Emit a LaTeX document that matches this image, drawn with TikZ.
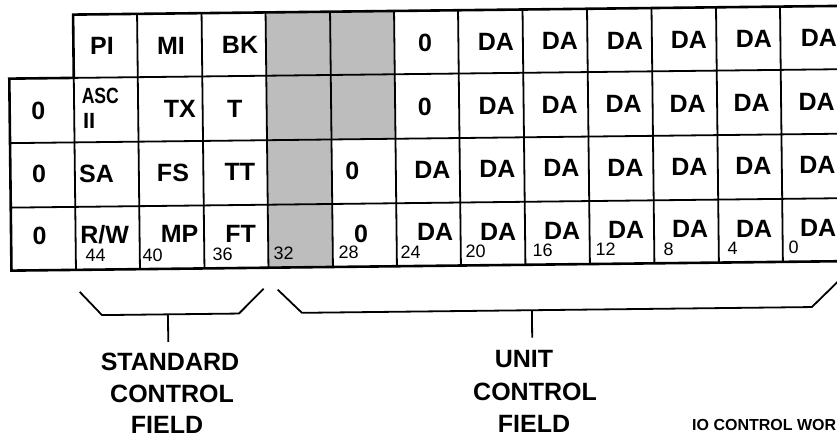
\documentclass[tikz,border=0pt]{standalone}
\usepackage{fontspec}
\setmainfont{Liberation Sans}
\begin{document}
\begin{tikzpicture}[x=1pt,y=1pt,
  lab/.style={font=\fontsize{25}{25}\selectfont\bfseries, inner sep=0pt, anchor=base},
  num/.style={font=\fontsize{18}{18}\selectfont, inner sep=0pt, anchor=base west},
  bl/.style={font=\fontsize{25}{25}\selectfont\bfseries, inner sep=0pt, anchor=base},
  figcaption/.style={font=\fontsize{16}{16}\selectfont\bfseries, inner sep=0pt, anchor=base west},
  outerline/.style={line width=2.6pt, line join=miter},
  innerline/.style={line width=1.8pt},
  brk/.style={line width=1.8pt, line join=round},
  shadecell/.style={fill=black!26}]
\useasboundingbox (0,0) rectangle (837,437);
\clip (0,0) rectangle (837,437);
\begin{scope}[rotate around={0.65:(418,297)}]
  % shaded cells
  \fill[shadecell] (267,426.3) rectangle (395.5,298.5);
  \fill[shadecell] (267,298.5) rectangle (331.5,171);
  % inner grid lines
  \draw[innerline] (74.5,363) -- (846,363);
  \draw[innerline] (10,298.5) -- (846,298.5);
  \draw[innerline] (10,234) -- (846,234);
  \draw[innerline] (74.5,363) -- (74.5,171);
  \foreach \x in {138.5,203,267,331.5,395.5,459.5,524,588.5,653,717.5,781.5}
    \draw[innerline] (\x,426.3) -- (\x,171);
  % outer border
  \draw[outerline] (846,171) -- (10,171) -- (10,363) -- (74.5,363) -- (74.5,426.3) -- (846,426.3);
  % row 1
  \node[lab] (pi) at (103,385.6) {PI};
  \node[lab] (mi) at (172,385.6) {MI};
  \node[lab] (bk) at (241,385.6) {BK};
  \node[lab] (z16) at (426,385.6) {0};
  \foreach \x [count=\i] in {497,561,626,690,755,820}
    \node[lab] (da1-\i) at (\x,385.6) {DA};
  % row 2
  \node[lab] (z20) at (38.5,321.8) {0};
  \node[font=\fontsize{22}{22}\selectfont\bfseries, inner sep=0pt, anchor=base west] (asc) at (82,337.6) {\scalebox{0.8}[1]{ASC}};
  \node[font=\fontsize{22}{22}\selectfont\bfseries, inner sep=0pt, anchor=base west] (ii) at (83,312.6) {II};
  \node[lab] (tx) at (180,321.8) {TX};
  \node[lab] (t) at (235,321.8) {T};
  \node[lab] (z26) at (425,321.8) {0};
  \foreach \x [count=\i] in {497,560,624,688,752,817}
    \node[lab] (da2-\i) at (\x,321.8) {DA};
  % row 3
  \node[lab] (z30) at (38.5,258.5) {0};
  \node[lab] (sa) at (96,258.5) {SA};
  \node[lab] (fs) at (172.5,258.5) {FS};
  \node[lab] (tt) at (239.5,258.5) {TT};
  \node[lab] (z35) at (352,258.5) {0};
  \foreach \x [count=\i] in {432,497,561,625,689,753,817}
    \node[lab] (da3-\i) at (\x,258.5) {DA};
  % row 4
  \node[lab] (z40) at (38.5,197) {0};
  \node[lab] (rw) at (103.5,197) {R/W};
  \node[lab] (mp) at (178.5,197) {MP};
  \node[lab] (ft) at (239.5,197) {FT};
  \node[lab] (z45) at (360,195) {0};
  \foreach \x [count=\i] in {434,497,561,625,689,753,817}
    \node[lab] (da4-\i) at (\x,196) {DA};
  % bit numbers
  \foreach \x/\n in {84/44,141/40,211/36,272/32,337/28,399/24,464/20,531/16,594/12,662/8,726/4,787/0}
    \node[num] (b\n) at (\x,179) {\n};
  % brackets
  \coordinate (sa1) at (78,149);
  \coordinate (sa2) at (100,125.5);
  \coordinate (sa3) at (237,125.5);
  \coordinate (sa4) at (262,150);
  \coordinate (ss1) at (166,125.5);
  \coordinate (ss2) at (166,98);
  \draw[brk] (sa1) -- (sa2) -- (sa3) -- (sa4);
  \draw[brk] (ss1) -- (ss2);
  \coordinate (ua1) at (276,149);
  \coordinate (ua2) at (300,125.5);
  \coordinate (ua3) at (810,125.5);
  \coordinate (ua4) at (843,157);
  \coordinate (us1) at (530,125.5);
  \coordinate (us2) at (530,98);
  \draw[brk] (ua1) -- (ua2) -- (ua3) -- (ua4);
  \draw[brk] (us1) -- (us2);
\end{scope}
% field labels
\node[bl] (s1) at (170,67) {STANDARD};
\node[bl] (s2) at (172,35) {CONTROL};
\node[bl] (s3) at (167,4) {FIELD};
\node[bl] (u1) at (524,70) {UNIT};
\node[bl] (u2) at (535,37) {CONTROL};
\node[bl] (u3) at (534,5) {FIELD};
\node[figcaption] (title) at (692,7) {IO CONTROL WOR};
\end{tikzpicture}
\end{document}
